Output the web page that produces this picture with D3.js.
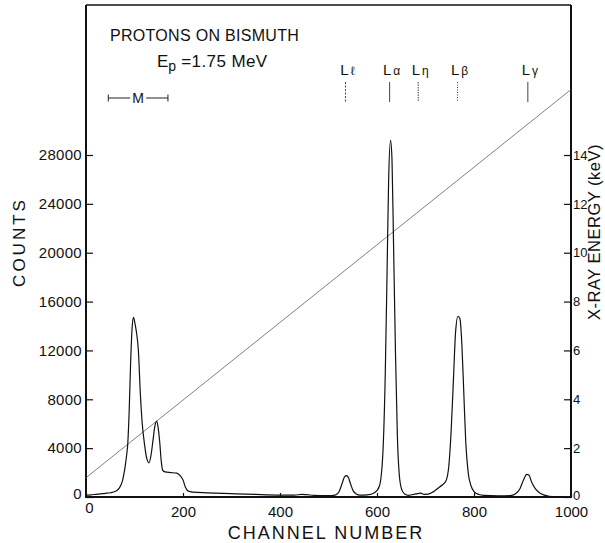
<!DOCTYPE html>
<html>
<head>
<meta charset="utf-8">
<script src="https://cdn.jsdelivr.net/npm/d3@7"></script>
<style>
  html, body { margin: 0; padding: 0; background: #fff; }
  svg text { font-family: "Liberation Sans", Arial, sans-serif; fill: #111; }
</style>
</head>
<body>
<svg id="chart" width="605" height="543"></svg>
<script>
// ---- data ----
const channels = [0, 10, 20, 30, 40, 50, 60, 68, 75, 80, 84, 86, 89, 92, 95, 98, 101, 104, 108, 112, 116, 121, 125, 130, 134, 138, 142, 146, 149, 152, 155, 158, 163, 175, 187, 195, 200, 205, 210, 220, 250, 300, 350, 400, 430, 445, 455, 470, 500, 515, 522, 528, 533, 537, 541, 546, 551, 557, 565, 580, 595, 605, 612, 617, 621, 624, 628, 631, 634, 638, 642, 646, 651, 657, 665, 680, 690, 697, 705, 715, 725, 735, 742, 748, 753, 758, 762, 767, 771, 775, 779, 783, 788, 794, 800, 810, 820, 850, 875, 885, 895, 902, 909, 913, 919, 926, 935, 945, 955, 970, 1000];
const counts   = [150, 180, 220, 260, 300, 350, 450, 700, 1300, 2300, 3500, 4300, 7000, 11000, 13800, 14700, 14200, 13500, 12000, 8500, 6000, 4200, 3200, 2800, 3400, 4600, 5800, 6200, 5600, 4500, 3000, 2200, 2050, 2000, 1950, 1700, 1400, 800, 500, 400, 340, 270, 210, 160, 150, 220, 190, 130, 110, 180, 450, 1100, 1650, 1750, 1600, 1000, 500, 250, 150, 170, 350, 900, 3500, 10000, 19000, 26000, 29200, 27500, 21000, 12000, 5000, 1800, 600, 250, 140, 250, 320, 220, 230, 400, 700, 1000, 1300, 2500, 5500, 10000, 13500, 14800, 14600, 12500, 8500, 4500, 2000, 900, 450, 200, 130, 100, 120, 250, 700, 1400, 1850, 1800, 1200, 700, 350, 150, 60, 20, 0];

// energy calibration line (channel, keV)
const energyChannels = [0, 1000];
const energyKeV = [0.79, 16.68];

// L-line markers
const lineNames = ["\u2113", "\u03b1", "\u03b7", "\u03b2", "\u03b3"];
const lineChannels = [535, 626, 685, 766, 911];
const lineDash = ["2,1.5", "none", "1.5,1", "1,1.5", "none"];

// M region marker (channels)
const mRange = [46, 169];

// tick labels
const countTicks = [0, 4000, 8000, 12000, 16000, 20000, 24000, 28000];
const keVTicks = [0, 2, 4, 6, 8, 10, 12, 14];
const channelTicks = [0, 200, 400, 600, 800, 1000];

// ---- layout ----
const svg = d3.select("#chart");
const pL = 86, pR = 571, pT = 5, pB = 497;

const x = d3.scaleLinear().domain([0, 1000]).range([pL, pR]);
const y = d3.scaleLinear().domain([0, 28000]).range([pB, 155]);
const yE = d3.scaleLinear().domain([0, 14]).range([pB, 155]);

// axes
const axL = svg.append("g").attr("transform", `translate(${pL},0)`)
  .call(d3.axisLeft(y).tickValues(countTicks).tickSizeInner(-7).tickSizeOuter(0).tickPadding(4).tickFormat(d3.format("d")));
const axR = svg.append("g").attr("transform", `translate(${pR},0)`)
  .call(d3.axisRight(yE).tickValues(keVTicks).tickSizeInner(-7).tickSizeOuter(0).tickPadding(2).tickFormat(d3.format("d")));
const axB = svg.append("g").attr("transform", `translate(0,${pB})`)
  .call(d3.axisBottom(x).tickValues(channelTicks).tickSizeInner(-4).tickSizeOuter(0).tickPadding(9).tickFormat(d3.format("d")));

[axL, axR, axB].forEach(g => {
  g.select(".domain").remove();
  g.selectAll(".tick line").attr("stroke", "#111").attr("stroke-width", 1.2);
  g.selectAll(".tick text").style("font-size", "15px").attr("fill", "#111");
});
axR.selectAll(".tick text").style("font-size", "13px");
axL.selectAll(".tick text").attr("letter-spacing", "0.3px");
axL.selectAll(".tick").filter(d => d === 0).select("text").attr("dy", "0.1em");
axR.selectAll(".tick").filter(d => d === 0).select("text").attr("dy", "0.2em");
axB.selectAll(".tick").filter(d => d === 0).select("text").attr("dx", "3").attr("dy", "0.45em");

// frame
const frame = svg.append("g").attr("stroke", "#111").attr("fill", "none");
frame.append("line").attr("x1", pL).attr("x2", pL).attr("y1", pT).attr("y2", pB).attr("stroke-width", 2);
frame.append("line").attr("x1", pR).attr("x2", pR).attr("y1", pT).attr("y2", pB).attr("stroke-width", 2);
frame.append("line").attr("x1", pL - 1).attr("x2", pR + 1).attr("y1", pB).attr("y2", pB).attr("stroke-width", 2);
frame.append("line").attr("x1", pL).attr("x2", pR).attr("y1", pT).attr("y2", pT).attr("stroke-width", 1.5);

// energy calibration line
svg.append("path")
  .datum(energyChannels.map((c, i) => [c, energyKeV[i]]))
  .attr("fill", "none").attr("stroke", "#555").attr("stroke-width", 0.75)
  .attr("d", d3.line().x(d => x(d[0])).y(d => yE(d[1])));

// spectrum
svg.append("path")
  .datum(channels.map((c, i) => [c, counts[i]]))
  .attr("fill", "none").attr("stroke", "#111").attr("stroke-width", 1.2)
  .attr("d", d3.line().x(d => x(d[0])).y(d => y(d[1])).curve(d3.curveMonotoneX));

// L line markers
const mk = svg.append("g");
lineChannels.forEach((c, i) => {
  mk.append("line").attr("x1", x(c)).attr("x2", x(c)).attr("y1", 82).attr("y2", 102)
    .attr("stroke", "#444").attr("stroke-width", 1)
    .attr("stroke-dasharray", lineDash[i]);
  const t = mk.append("text").attr("x", x(c) + 2).attr("y", 75)
    .attr("text-anchor", "middle").style("font-size", "15px");
  t.append("tspan").text("L");
  t.append("tspan").attr("dx", "2").style("font-size", "12px").text(lineNames[i]);
});

// M marker
const mG = svg.append("g").attr("stroke", "#222").attr("stroke-width", 1);
const my = 98;
mG.append("line").attr("x1", x(mRange[0])).attr("x2", x(mRange[0])).attr("y1", my - 3.5).attr("y2", my + 3.5);
mG.append("line").attr("x1", x(mRange[1])).attr("x2", x(mRange[1])).attr("y1", my - 3.5).attr("y2", my + 3.5);
const mMid = (x(mRange[0]) + x(mRange[1])) / 2;
mG.append("line").attr("x1", x(mRange[0])).attr("x2", mMid - 8).attr("y1", my).attr("y2", my);
mG.append("line").attr("x1", mMid + 8).attr("x2", x(mRange[1])).attr("y1", my).attr("y2", my);
svg.append("text").attr("x", mMid).attr("y", my + 5).attr("text-anchor", "middle")
  .style("font-size", "14px").text("M");

// titles
svg.append("text").attr("x", 110).attr("y", 41).style("font-size", "16px")
  .attr("letter-spacing", "0.3px").text("PROTONS  ON  BISMUTH");
const ep = svg.append("text").attr("x", 157).attr("y", 67).style("font-size", "17px");
ep.append("tspan").text("E");
ep.append("tspan").attr("dy", "4").style("font-size", "14px").text("p");
ep.append("tspan").attr("dy", "-4").attr("letter-spacing", "0.4px").text(" =1.75 MeV");

// axis titles
svg.append("text").attr("transform", "translate(600,232) rotate(-90)")
  .attr("text-anchor", "middle").style("font-size", "16.5px").attr("letter-spacing", "0.5px").text("X-RAY ENERGY (keV)");
svg.append("text").attr("transform", "translate(25,242) rotate(-90)")
  .attr("text-anchor", "middle").style("font-size", "17px").attr("letter-spacing", "3px").text("COUNTS");
svg.append("text").attr("x", 326).attr("y", 539).attr("text-anchor", "middle")
  .style("font-size", "18px").attr("letter-spacing", "2px").text("CHANNEL  NUMBER");
</script>
</body>
</html>
